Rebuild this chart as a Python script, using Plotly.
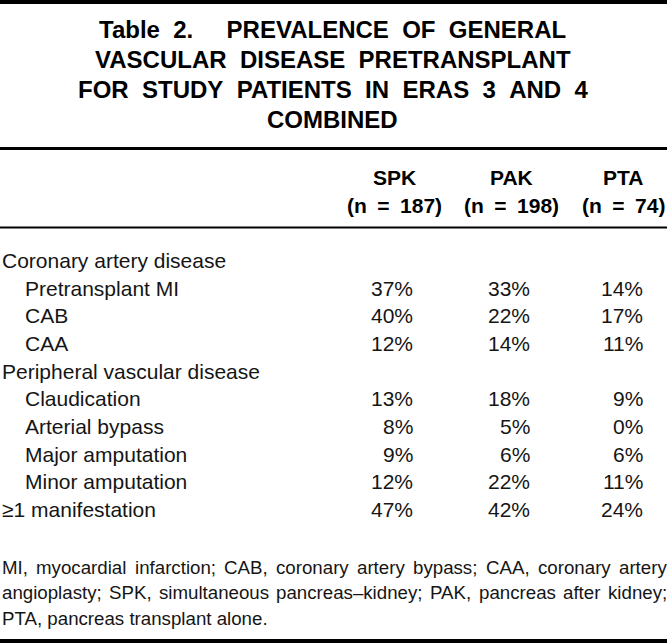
import plotly.graph_objects as go

# ---- data ----
title_lines = [
    "Table 2.|PREVALENCE OF GENERAL",
    "VASCULAR DISEASE PRETRANSPLANT",
    "FOR STUDY PATIENTS IN ERAS 3 AND 4",
    "COMBINED",
]
groups = ["SPK", "PAK", "PTA"]
group_n = ["(n = 187)", "(n = 198)", "(n = 74)"]
row_labels = [
    "Coronary artery disease",
    "Pretransplant MI",
    "CAB",
    "CAA",
    "Peripheral vascular disease",
    "Claudication",
    "Arterial bypass",
    "Major amputation",
    "Minor amputation",
    "\u22651 manifestation",
]
row_indent = [False, True, True, True, False, True, True, True, True, False]
spk = [None, 37, 40, 12, None, 13, 8, 9, 12, 47]
pak = [None, 33, 22, 14, None, 18, 5, 6, 22, 42]
pta = [None, 14, 17, 11, None, 9, 0, 6, 11, 24]
footnote_lines = [
    "MI, myocardial infarction; CAB, coronary artery bypass; CAA, coronary artery",
    "angioplasty; SPK, simultaneous pancreas\u2013kidney; PAK, pancreas after kidney;",
    "PTA, pancreas transplant alone.",
]
footnote_justify = [True, True, False]

# ---- layout constants ----
W, H = 667, 643
FONT = "Liberation Sans, Arial, Helvetica, sans-serif"
BODY = 21
FOOT = 18.7
TITLE = 24
title_y0, title_step = 29, 30
head_y = [177.5, 205]
col_center = [394, 511, 623]
col_right = [415, 532, 645]
body_y0, body_step = 260.5, 27.65
foot_y0, foot_step = 567, 25.8
foot_width = 665

# Arial / Liberation Sans advance widths (per 1000 em) for justification
_lw = dict(zip("abcdefghijklmnopqrstuvwxyz",
               [556, 556, 500, 556, 556, 278, 556, 556, 222, 222, 500, 222, 833,
                556, 556, 556, 556, 333, 500, 278, 556, 500, 722, 500, 500, 500]))
_uw = dict(zip("ABCDEFGHIJKLMNOPQRSTUVWXYZ",
               [667, 667, 722, 722, 667, 611, 778, 722, 278, 500, 667, 556, 833,
                722, 778, 667, 778, 722, 667, 611, 722, 667, 944, 667, 667, 611]))
_pw = {",": 278, ";": 278, ".": 278, " ": 278, "\u2013": 556, "-": 333}


def text_width(s, size):
    tot = 0
    for ch in s:
        tot += _lw.get(ch) or _uw.get(ch) or _pw.get(ch, 556)
    return tot * size / 1000.0


fig = go.Figure()
ann = []

sp = "\u00a0\u00a0"
for i, line in enumerate(title_lines):
    txt = line.replace(" ", sp).replace("|", "\u00a0" * 5)
    ann.append(dict(x=332.5, y=title_y0 + i * title_step, text="<b>" + txt + "</b>",
                    xanchor="center", yanchor="middle", showarrow=False,
                    font=dict(family=FONT, size=TITLE, color="#000")))

for j, g in enumerate(groups):
    ann.append(dict(x=col_center[j], y=head_y[0], text="<b>" + g + "</b>",
                    xanchor="center", yanchor="middle", showarrow=False,
                    font=dict(family=FONT, size=BODY, color="#000")))
    ann.append(dict(x=col_center[j], y=head_y[1],
                    text="<b>" + group_n[j].replace(" = ", "\u2002=\u2002") + "</b>",
                    xanchor="center", yanchor="middle", showarrow=False,
                    font=dict(family=FONT, size=BODY, color="#000")))

series = [spk, pak, pta]
for i, lab in enumerate(row_labels):
    y = body_y0 + i * body_step
    ann.append(dict(x=23 if row_indent[i] else 0, y=y, text=lab,
                    xanchor="left", yanchor="middle", showarrow=False,
                    font=dict(family=FONT, size=BODY, color="#151515")))
    for j, s in enumerate(series):
        if s[i] is None:
            continue
        ann.append(dict(x=col_right[j], y=y, text=f"{s[i]}%",
                        xanchor="right", yanchor="middle", showarrow=False,
                        font=dict(family=FONT, size=BODY, color="#151515")))

for i, line in enumerate(footnote_lines):
    y = foot_y0 + i * foot_step
    if footnote_justify[i]:
        words = line.split(" ")
        widths = [text_width(w, FOOT) for w in words]
        gap = (foot_width - sum(widths)) / (len(words) - 1)
        x = 0.0
        for w, ww in zip(words, widths):
            ann.append(dict(x=x, y=y, text=w, xanchor="left", yanchor="middle",
                            showarrow=False,
                            font=dict(family=FONT, size=FOOT, color="#151515")))
            x += ww + gap
    else:
        ann.append(dict(x=0, y=y, text=line, xanchor="left", yanchor="middle",
                        showarrow=False, font=dict(family=FONT, size=FOOT, color="#151515")))

shapes = []
for y, w in [(2, 4), (148.5, 3), (227.5, 2), (641, 4)]:
    shapes.append(dict(type="line", xref="x", yref="y", x0=0, x1=W, y0=y, y1=y,
                       line=dict(color="#000", width=w)))

fig.update_layout(
    width=W, height=H, margin=dict(l=0, r=0, t=0, b=0),
    paper_bgcolor="white", plot_bgcolor="white",
    xaxis=dict(range=[0, W], visible=False, fixedrange=True),
    yaxis=dict(range=[H, 0], visible=False, fixedrange=True),
    annotations=ann, shapes=shapes, showlegend=False,
)
fig.write_html("out.html", config={"displayModeBar": False},
               post_script="document.body.style.margin='0';document.body.style.overflow='hidden';")
